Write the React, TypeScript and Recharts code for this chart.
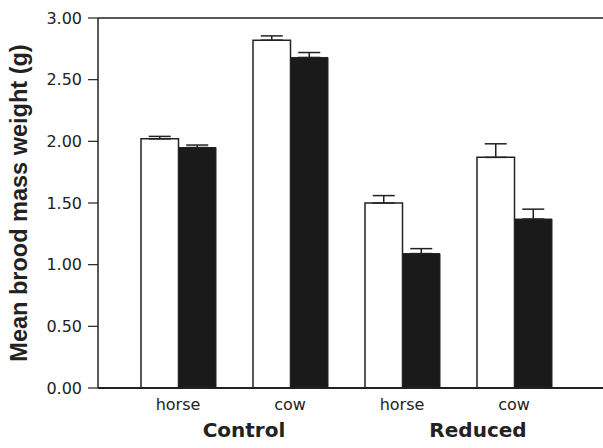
import * as React from 'react';
import {
    Bar,
    BarChart,
    ErrorBar,
    Label,
    ReferenceLine,
    XAxis,
    YAxis
} from 'recharts';

const categories = ['horse', 'cow', 'horse', 'cow'];
const groupNames = ['Control', '', 'Reduced', ''];
const whiteValues = [2.02, 2.82, 1.5, 1.87];
const whiteErrors = [0.02, 0.035, 0.06, 0.11];
const blackValues = [1.95, 2.68, 1.09, 1.37];
const blackErrors = [0.02, 0.04, 0.04, 0.08];
const yTicks = [0, 0.5, 1, 1.5, 2, 2.5, 3];

const data = categories.map((name, i) => ({
    name,
    group: groupNames[i],
    white: whiteValues[i],
    whiteErr: [0, whiteErrors[i]],
    black: blackValues[i],
    blackErr: [0, blackErrors[i]],
}));

const FONT = '"DejaVu Sans", sans-serif';
const INK = '#222';

// category name under each pair, group name under every second pair
const CategoryTick = (props: any) => {
    const { x, y, payload, index } = props;
    const group = data[index] ? data[index].group : '';
    const shift = index === 0 ? 66 : 76;
    return (
        <g>
            <text x={x} y={y + 12} textAnchor="middle" fontFamily={FONT} fontSize={16} fill={INK}>
                {payload.value}
            </text>
            {group ? (
                <text x={x + shift} y={y + 39} textAnchor="middle" fontFamily={FONT} fontSize={20}
                    fontWeight="bold" fill={INK}>
                    {group}
                </text>
            ) : null}
        </g>
    );
};

const YTitle = (props: any) => {
    const { viewBox } = props;
    const cx = 19;
    const cy = viewBox.y + viewBox.height / 2;
    return (
        <text x={cx} y={cy} transform={`rotate(-90, ${cx}, ${cy})`} textAnchor="middle"
            dominantBaseline="central" fontFamily='"Liberation Sans", Arial, sans-serif'
            fontSize={23.5} fontWeight="bold" fill={INK}>
            Mean brood mass weight (g)
        </text>
    );
};

export default function App() {
    return (
        <div style={{ position: 'absolute', left: 0, top: 0, background: '#fff' }}>
            <BarChart width={603} height={448} data={data} barSize={37.5} barGap={0}
                margin={{ top: 18, right: 0, left: 0, bottom: 0 }}>
                <XAxis dataKey="name" height={60} padding={{ left: 24, right: 33 }}
                    axisLine={{ stroke: INK, strokeWidth: 2 }} tickLine={false}
                    tickSize={0} tickMargin={10} tick={<CategoryTick />} interval={0} />
                <YAxis width={98} domain={[0, 3]} ticks={yTicks} type="number"
                    tickFormatter={(v: number) => v.toFixed(2)}
                    axisLine={{ stroke: INK, strokeWidth: 1.5 }}
                    tickLine={{ stroke: INK, strokeWidth: 1.2 }} tickSize={10} tickMargin={6}
                    tick={{ fontFamily: FONT, fontSize: 16, fill: INK }}>
                    <Label content={<YTitle />} />
                </YAxis>
                <ReferenceLine y={3} stroke={INK} strokeWidth={1.5} />
                <Bar dataKey="white" fill="#ffffff" stroke={INK} strokeWidth={1.5} isAnimationActive={false}>
                    <ErrorBar dataKey="whiteErr" width={11} stroke={INK} strokeWidth={1.5} direction="y" />
                </Bar>
                <Bar dataKey="black" fill="#1a1a1a" stroke={INK} strokeWidth={1} isAnimationActive={false}>
                    <ErrorBar dataKey="blackErr" width={11} stroke={INK} strokeWidth={1.5} direction="y" />
                </Bar>
            </BarChart>
        </div>
    );
}
